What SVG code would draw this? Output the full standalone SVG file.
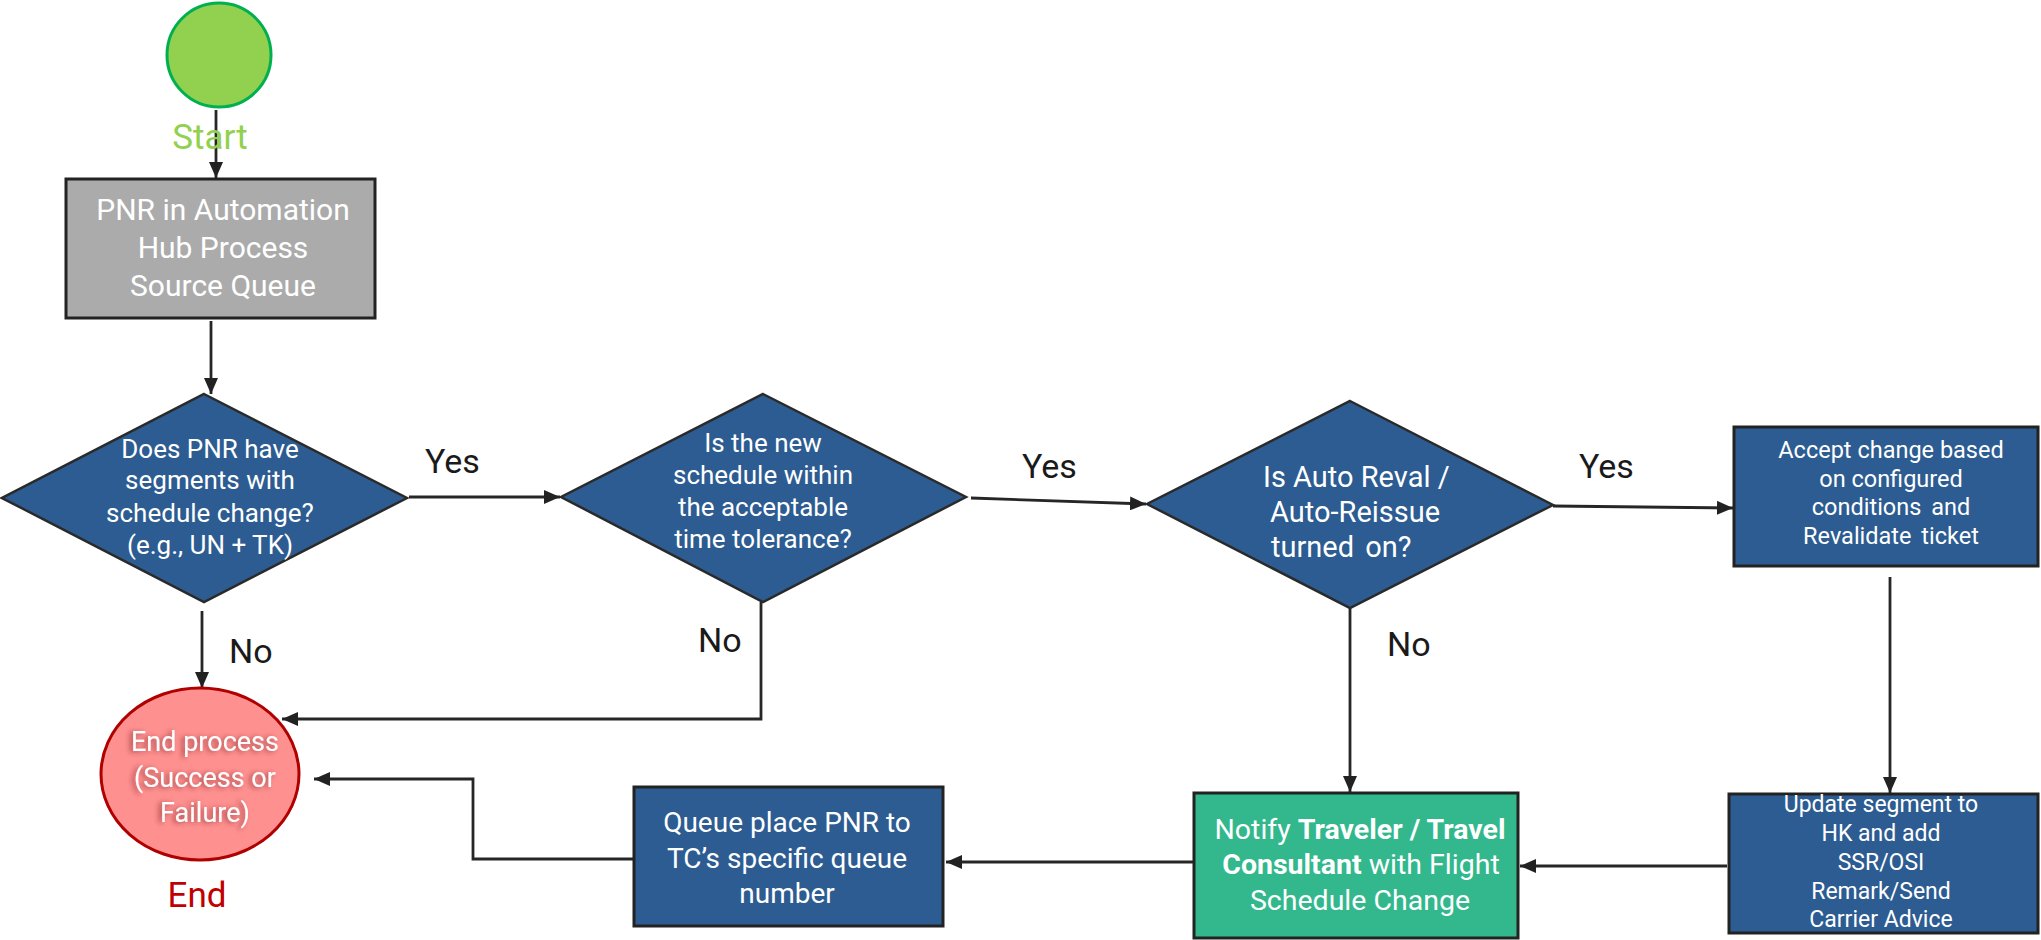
<svg xmlns="http://www.w3.org/2000/svg" width="2041" height="940" viewBox="0 0 2041 940">
<style>
.t{font-family:Roboto,"Liberation Sans",sans-serif;fill:#fff;text-anchor:middle}
.lbl{font-family:Roboto,"Liberation Sans",sans-serif;fill:#1a1a1a;font-size:34px}
.blue{fill:#2C5C91;stroke:#222;stroke-width:3}
.dia{fill:#2C5C91;stroke:#2a2a2a;stroke-width:2.5}
.con{fill:none;stroke:#262626;stroke-width:2.8}
</style>
<defs>
<marker id="ah" viewBox="0 0 16 14" refX="16" refY="7" markerWidth="16" markerHeight="14" markerUnits="userSpaceOnUse" orient="auto">
<path d="M0,0 L16,7 L0,14 z" fill="#222"/>
</marker>
<filter id="sh" x="-20%" y="-40%" width="140%" height="180%">
<feGaussianBlur in="SourceAlpha" stdDeviation="2.5" result="b"/>
<feOffset in="b" dx="-3" dy="1" result="o"/>
<feFlood flood-color="#8a2a2a" flood-opacity="0.75"/>
<feComposite in2="o" operator="in" result="s"/>
<feMerge><feMergeNode in="s"/><feMergeNode in="SourceGraphic"/></feMerge>
</filter>
</defs>

<g id="connectors">
<path class="con" d="M216,110 V178" marker-end="url(#ah)"/>
<path class="con" d="M211,321 V394" marker-end="url(#ah)"/>
<path class="con" d="M409,497 H560" marker-end="url(#ah)"/>
<path class="con" d="M202,611 V688" marker-end="url(#ah)"/>
<path class="con" d="M971,498 L1146,504" marker-end="url(#ah)"/>
<path class="con" d="M761,602 V719 H282" marker-end="url(#ah)"/>
<path class="con" d="M1553,506 L1733,508" marker-end="url(#ah)"/>
<path class="con" d="M1350,608 V792" marker-end="url(#ah)"/>
<path class="con" d="M1890,577 V793" marker-end="url(#ah)"/>
<path class="con" d="M1727,866 H1520" marker-end="url(#ah)"/>
<path class="con" d="M1193,862 H946" marker-end="url(#ah)"/>
<path class="con" d="M633,859 H473 V779 H314" marker-end="url(#ah)"/>
<text class="lbl" x="425" y="473">Yes</text>
<text class="lbl" x="229" y="663">No</text>
<text class="lbl" x="1022" y="478">Yes</text>
<text class="lbl" x="698" y="652">No</text>
<text class="lbl" x="1579" y="478">Yes</text>
<text class="lbl" x="1387" y="656">No</text>
</g>

<g id="start">
<circle cx="219" cy="55" r="52" fill="#92D050" stroke="#00B050" stroke-width="3"/>
<text x="210" y="149" font-family="Roboto,'Liberation Sans',sans-serif" font-size="35" fill="#92D050" text-anchor="middle">Start</text>
</g>

<g id="source-queue">
<rect x="66" y="179" width="309" height="139" fill="#ABABAB" stroke="#222" stroke-width="3"/>
<text class="t" font-size="30" fill="#f4f4f4"><tspan x="223" y="220">PNR in Automation</tspan><tspan x="223" y="258">Hub Process</tspan><tspan x="223" y="296">Source Queue</tspan></text>
</g>

<g id="decision-schedule-change">
<polygon class="dia" points="204,394 407,498 204,602 2,498"/>
<text class="t" font-size="26"><tspan x="210" y="458">Does PNR have</tspan><tspan x="210" y="489">segments with</tspan><tspan x="210" y="522">schedule change?</tspan><tspan x="210" y="554">(e.g., UN + TK)</tspan></text>
</g>

<g id="decision-tolerance">
<polygon class="dia" points="763,394 966,497 763,602 561,497"/>
<text class="t" font-size="26"><tspan x="763" y="452">Is the new</tspan><tspan x="763" y="484">schedule within</tspan><tspan x="763" y="516">the acceptable</tspan><tspan x="763" y="548">time tolerance?</tspan></text>
</g>

<g id="decision-auto-reval">
<polygon class="dia" points="1350,401 1553,505 1350,608 1147,504"/>
<text class="t" font-size="29" text-anchor="start" style="text-anchor:start"><tspan x="1263" y="487">Is Auto Reval /</tspan><tspan x="1270" y="522">Auto-Reissue</tspan><tspan x="1271" y="557" word-spacing="4">turned on?</tspan></text>
</g>

<g id="accept-change">
<rect class="blue" x="1734" y="427" width="304" height="139"/>
<text class="t" font-size="23.5"><tspan x="1891" y="458">Accept change based</tspan><tspan x="1891" y="487">on configured</tspan><tspan x="1891" y="515" word-spacing="4">conditions and</tspan><tspan x="1891" y="544" word-spacing="4">Revalidate ticket</tspan></text>
</g>

<g id="update-segment">
<rect class="blue" x="1729" y="794" width="309" height="139"/>
<text class="t" font-size="23"><tspan x="1881" y="812">Update segment to</tspan><tspan x="1881" y="841">HK and add</tspan><tspan x="1881" y="870">SSR/OSI</tspan><tspan x="1881" y="899">Remark/Send</tspan><tspan x="1881" y="927">Carrier Advice</tspan></text>
</g>

<g id="notify">
<rect x="1194" y="793" width="324" height="145" fill="#32B88C" stroke="#222" stroke-width="3"/>
<text class="t" font-size="28.5"><tspan x="1360" y="839">Notify <tspan font-weight="700">Traveler / Travel</tspan></tspan><tspan x="1361" y="874"><tspan font-weight="700">Consultant</tspan> with Flight</tspan><tspan x="1360" y="910">Schedule Change</tspan></text>
</g>

<g id="queue-place">
<rect class="blue" x="634" y="787" width="309" height="139"/>
<text class="t" font-size="28"><tspan x="787" y="832">Queue place PNR to</tspan><tspan x="787" y="868">TC’s specific queue</tspan><tspan x="787" y="903">number</tspan></text>
</g>

<g id="end">
<ellipse cx="200" cy="774" rx="99" ry="86" fill="#FE9090" stroke="#B00000" stroke-width="3"/>
<text class="t" font-size="27" filter="url(#sh)"><tspan x="205" y="751">End process</tspan><tspan x="205" y="787">(Success or</tspan><tspan x="205" y="822">Failure)</tspan></text>
<text x="197" y="907" font-family="Roboto,'Liberation Sans',sans-serif" font-size="35" fill="#C00000" text-anchor="middle">End</text>
</g>
</svg>
